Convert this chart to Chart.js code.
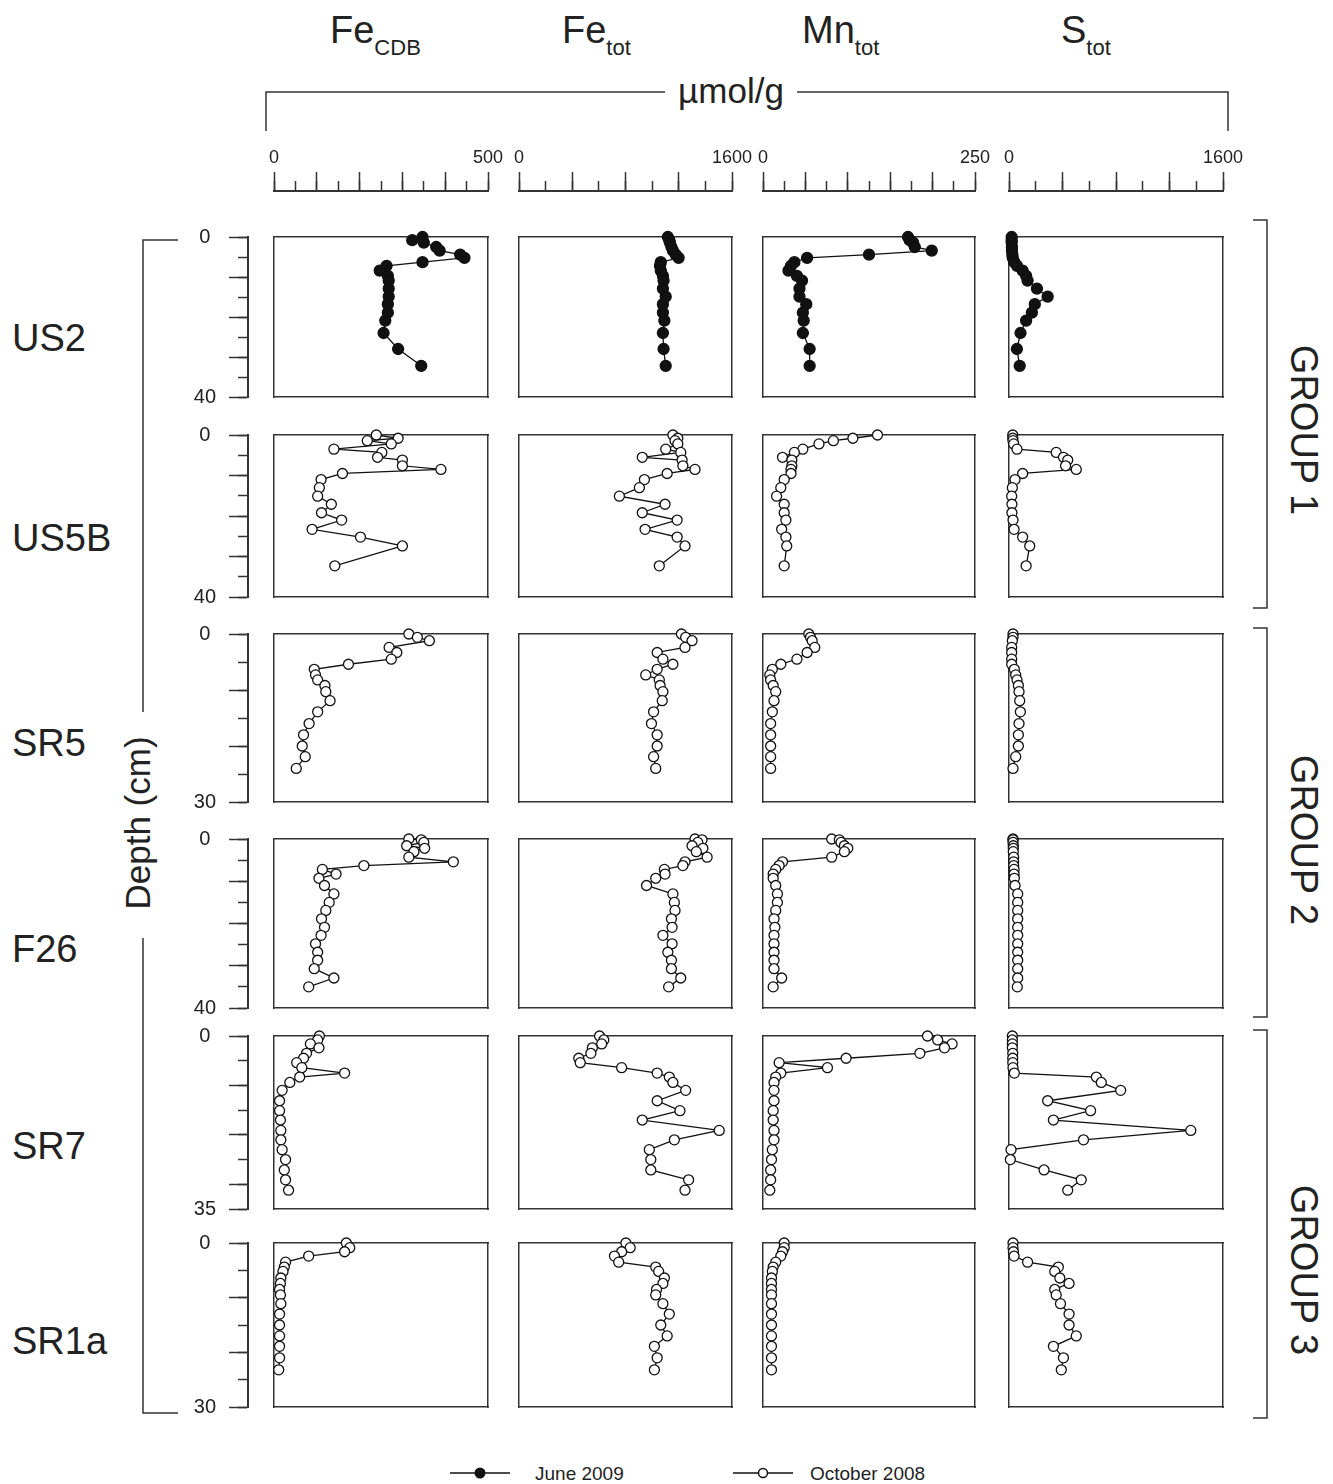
<!DOCTYPE html>
<html>
<head>
<meta charset="utf-8">
<script src="https://cdn.jsdelivr.net/npm/chart.js@4.4.1/dist/chart.umd.min.js"></script>
<style>
  body { margin: 0; background: #fff; }
  #page { position: relative; width: 1333px; height: 1484px; overflow: hidden; font-family: "Liberation Sans", Arial, sans-serif; }
  #page canvas { position: absolute; }
  #page svg { position: absolute; left: 0; top: 0; }
</style>
</head>
<body>
<div id="page">
<svg width="1333" height="1484" font-family="Liberation Sans, Arial, sans-serif" fill="#222">
  <!-- column headers -->
  <text x="330" y="43" font-size="38">Fe<tspan font-size="22" dy="12">CDB</tspan></text>
  <text x="562" y="43" font-size="38">Fe<tspan font-size="22" dy="12">tot</tspan></text>
  <text x="802" y="43" font-size="38">Mn<tspan font-size="22" dy="12">tot</tspan></text>
  <text x="1061" y="43" font-size="38">S<tspan font-size="22" dy="12">tot</tspan></text>
  <!-- unit bracket -->
  <polyline points="266,131 266,92 665,92" fill="none" stroke="#333" stroke-width="1.5"/>
  <polyline points="797,92 1228,92 1228,131" fill="none" stroke="#333" stroke-width="1.5"/>
  <text x="731" y="103" font-size="35" text-anchor="middle">µmol/g</text>
  <!-- core names -->
  <text x="12" y="351" font-size="38">US2</text>
  <text x="12" y="551" font-size="38">US5B</text>
  <text x="12" y="756" font-size="38">SR5</text>
  <text x="12" y="962" font-size="38">F26</text>
  <text x="12" y="1159" font-size="38">SR7</text>
  <text x="12" y="1354" font-size="38">SR1a</text>
  <!-- depth bracket -->
  <polyline points="178,240 143,240 143,712" fill="none" stroke="#333" stroke-width="1.5"/>
  <polyline points="143,938 143,1413 178,1413" fill="none" stroke="#333" stroke-width="1.5"/>
  <text transform="translate(150,823) rotate(-90)" font-size="35" text-anchor="middle">Depth (cm)</text>
  <!-- group brackets -->
  <polyline points="1253,220 1267,220 1267,608 1253,608" fill="none" stroke="#333" stroke-width="1.5"/>
  <polyline points="1253,628 1267,628 1267,1017 1253,1017" fill="none" stroke="#333" stroke-width="1.5"/>
  <polyline points="1253,1030 1267,1030 1267,1418 1253,1418" fill="none" stroke="#333" stroke-width="1.5"/>
  <text transform="translate(1291,430) rotate(90)" font-size="38" text-anchor="middle">GROUP 1</text>
  <text transform="translate(1291,840) rotate(90)" font-size="38" text-anchor="middle">GROUP 2</text>
  <text transform="translate(1291,1270) rotate(90)" font-size="38" text-anchor="middle">GROUP 3</text>
  <!-- legend -->
  <line x1="450" y1="1473" x2="510" y2="1473" stroke="#111" stroke-width="1.5"/>
  <circle cx="480" cy="1473" r="5.5" fill="#111"/>
  <text x="535" y="1480" font-size="19">June 2009</text>
  <line x1="733" y1="1473" x2="793" y2="1473" stroke="#111" stroke-width="1.5"/>
  <circle cx="763" cy="1473" r="4.5" fill="#fff" stroke="#111" stroke-width="1.5"/>
  <text x="810" y="1480" font-size="19">October 2008</text>
</svg>
</div>
<script>
// ---- data (depth in cm, concentrations in umol/g) ----
const cores = ['US2', 'US5B', 'SR5', 'F26', 'SR7', 'SR1a'];
const coreMaxDepth = [40, 40, 30, 40, 35, 30];
const coreFilled = [true, false, false, false, false, false]; // June 2009 vs October 2008
const elements = ['FeCDB', 'Fetot', 'Mn', 'S'];
const elementMax = [500, 1600, 250, 1600];
const majorStep = [100, 400, 50, 400];
const minorStep = [50, 200, 25, 200];

const US2_depth = [0, 0.8, 1.4, 2.5, 3.4, 4.4, 5.2, 6.3, 7.2, 8.4, 9.7, 10.9, 12.9, 14.9, 16.8, 18.9, 20.9, 24.0, 28.0, 32.2];
const US2_FeCDB = [347, 323, 350, 379, 387, 435, 445, 347, 263, 247, 266, 268, 268, 268, 266, 266, 260, 256, 290, 344];
const US2_Fetot = [1118, 1129, 1134, 1145, 1156, 1177, 1199, 1065, 1059, 1065, 1081, 1086, 1081, 1102, 1081, 1081, 1092, 1081, 1086, 1102];
const US2_Mn = [171, 173, 177, 179, 199, 125, 52, 37, 33, 30, 40, 46, 43, 43, 51, 47, 48, 47, 55, 55];
const US2_S = [20, 20, 20, 22, 22, 25, 28, 40, 60, 102, 128, 139, 209, 289, 193, 171, 128, 86, 59, 80];

const US5B_depth = [0, 0.8, 1.4, 2.2, 3.5, 4.3, 5.5, 6.2, 7.6, 8.5, 9.5, 11.0, 13.0, 15.1, 17.1, 19.2, 21.0, 23.3, 25.2, 27.4, 32.3];
const US5B_FeCDB = [239, 290, 218, 274, 140, 252, 242, 300, 300, 390, 160, 110, 106, 102, 134, 111, 158, 89, 202, 300, 142];
const US5B_Fetot = [1156, 1193, 1172, 1193, 1102, 1215, 926, 1225, 1231, 1322, 1113, 942, 904, 754, 1097, 926, 1188, 947, 1188, 1247, 1054];
const US5B_Mn = [135, 106, 83, 66, 47, 37, 23, 34, 34, 33, 33, 25, 21, 16, 25, 25, 27, 22, 27, 28, 25];
const US5B_S = [28, 28, 30, 35, 60, 353, 407, 439, 423, 503, 102, 45, 25, 20, 22, 22, 30, 38, 102, 155, 128];

const SR5_depth = [0, 0.6, 1.2, 2.4, 3.3, 4.5, 5.4, 6.3, 7.3, 8.2, 9.2, 10.3, 11.9, 13.9, 16.0, 18.0, 20.0, 21.9, 24.0];
const SR5_FeCDB = [315, 335, 363, 269, 287, 274, 174, 94, 97, 102, 119, 121, 131, 102, 82, 69, 66, 73, 52];
const SR5_Fetot = [1220, 1252, 1300, 1247, 1038, 1081, 1156, 1038, 952, 1054, 1060, 1081, 1076, 1011, 995, 1038, 1038, 1011, 1027];
const SR5_Mn = [54, 56, 58, 61, 52, 40, 21, 11, 8, 9, 12, 15, 13, 11, 9, 9, 9, 9, 9];
const SR5_S = [30, 30, 25, 20, 20, 20, 20, 40, 50, 60, 70, 75, 80, 85, 75, 70, 70, 50, 30];

const F26_depth = [0, 0.2, 0.8, 1.6, 2.2, 3.0, 4.3, 5.4, 6.3, 7.2, 8.3, 9.3, 11.0, 13.0, 15.0, 16.9, 18.9, 20.9, 22.8, 24.8, 26.8, 28.7, 30.7, 32.9, 35.0];
const F26_FeCDB = [315, 344, 350, 310, 352, 327, 315, 419, 210, 113, 145, 105, 118, 140, 129, 121, 111, 118, 110, 97, 102, 102, 94, 140, 81];
const F26_Fetot = [1322, 1375, 1343, 1300, 1381, 1332, 1413, 1247, 1231, 1092, 1097, 1027, 958, 1156, 1167, 1172, 1145, 1150, 1081, 1150, 1118, 1145, 1145, 1215, 1124];
const F26_Mn = [81, 90, 92, 96, 100, 96, 81, 23, 19, 15, 12, 12, 15, 17, 17, 15, 13, 14, 13, 13, 13, 13, 13, 22, 12];
const F26_S = [30, 30, 30, 32, 32, 32, 35, 35, 35, 38, 38, 40, 45, 65, 65, 65, 65, 65, 65, 65, 65, 65, 65, 65, 62];

const SR7_depth = [0, 0.8, 1.6, 2.4, 3.5, 4.5, 5.4, 6.4, 7.5, 8.3, 9.4, 11.0, 13.1, 15.1, 17.0, 19.1, 21.0, 23.0, 25.0, 27.1, 29.1, 31.2];
const SR7_FeCDB = [106, 102, 85, 105, 76, 69, 53, 65, 165, 60, 37, 19, 13, 13, 15, 16, 16, 19, 27, 24, 27, 34];
const SR7_Fetot = [605, 637, 621, 551, 540, 449, 460, 771, 1038, 1129, 1156, 1252, 1038, 1209, 926, 1504, 1167, 979, 990, 990, 1274, 1247];
const SR7_Mn = [194, 206, 223, 214, 185, 98, 19, 76, 21, 15, 13, 13, 13, 12, 12, 13, 13, 11, 10, 9, 9, 8];
const SR7_S = [25, 25, 25, 25, 28, 28, 28, 30, 40, 653, 690, 835, 289, 610, 332, 1359, 557, 15, 10, 262, 540, 439];

const SR1a_depth = [0, 0.85, 1.6, 2.4, 3.5, 4.4, 5.2, 6.4, 7.4, 8.5, 9.5, 11.1, 13.0, 15.0, 17.0, 18.9, 21.0, 23.2];
const SR1a_FeCDB = [169, 177, 165, 81, 27, 24, 21, 16, 15, 13, 15, 16, 13, 13, 13, 13, 13, 11];
const SR1a_Fetot = [803, 835, 771, 717, 749, 1027, 1049, 1092, 1081, 1033, 1027, 1081, 1129, 1065, 1113, 1017, 1038, 1017];
const SR1a_Mn = [25, 25, 23, 21, 15, 12, 11, 10, 10, 10, 10, 10, 10, 10, 10, 10, 10, 10];
const SR1a_S = [30, 30, 33, 38, 139, 369, 342, 380, 449, 342, 353, 385, 449, 449, 503, 332, 407, 391];

const coreDepths = [US2_depth, US5B_depth, SR5_depth, F26_depth, SR7_depth, SR1a_depth];
const coreValues = [
    [US2_FeCDB, US2_Fetot, US2_Mn, US2_S],
    [US5B_FeCDB, US5B_Fetot, US5B_Mn, US5B_S],
    [SR5_FeCDB, SR5_Fetot, SR5_Mn, SR5_S],
    [F26_FeCDB, F26_Fetot, F26_Mn, F26_S],
    [SR7_FeCDB, SR7_Fetot, SR7_Mn, SR7_S],
    [SR1a_FeCDB, SR1a_Fetot, SR1a_Mn, SR1a_S]
];

// ---- layout ----
const page = document.getElementById('page');
const colLeft = [274, 519, 763, 1009],
    colRight = [488, 732, 975, 1223],
    rowTop = [237, 435, 634, 839, 1036, 1243],
    rowBottom = [397, 597, 802, 1008, 1209, 1407],
    depthAxisX = 248,
    INK = '#333';

Chart.defaults.font.family = '"Liberation Sans", Arial, sans-serif';
Chart.defaults.color = '#222';

function addCanvas(x, y, w, h) {
    const c = document.createElement('canvas');
    c.width = w;
    c.height = h;
    c.style.left = x + 'px';
    c.style.top = y + 'px';
    page.appendChild(c);
    return c;
}

const baseOptions = () => ({
    animation: false,
    responsive: false,
    events: [],
    plugins: { legend: { display: false }, tooltip: { enabled: false } }
});

// frame side of a panel: only the border line is drawn
function frame(position, min, max, reverse) {
    return {
        type: 'linear', position, min, max, reverse: !!reverse, display: true,
        grid: { display: false, drawTicks: false },
        ticks: { display: false },
        border: { display: true, color: INK, width: 1.5 }
    };
}

// one profile panel
function panel(r, c) {
    const PAD = 10;
    const w = colRight[c] - colLeft[c], h = rowBottom[r] - rowTop[r];
    const depth = coreDepths[r], vals = coreValues[r][c];
    const filled = coreFilled[r];
    new Chart(addCanvas(colLeft[c] - PAD, rowTop[r] - PAD, w + 2 * PAD, h + 2 * PAD), {
        type: 'scatter',
        data: {
            datasets: [{
                label: cores[r] + ' ' + elements[c],
                data: depth.map((d, i) => ({ x: vals[i], y: d })),
                showLine: true,
                clip: false,
                borderColor: '#111',
                borderWidth: 1.3,
                pointRadius: filled ? 5.5 : 5,
                pointBackgroundColor: filled ? '#111' : '#fff',
                pointBorderColor: '#111',
                pointBorderWidth: 1.3
            }]
        },
        options: Object.assign(baseOptions(), {
            layout: { padding: PAD },
            scales: {
                x: frame('bottom', 0, elementMax[c]),
                y: frame('left', 0, coreMaxDepth[r], true),
                xTop: frame('top'),
                yRight: frame('right')
            }
        })
    });
}

// concentration scale on top of each column (major + minor ticks, two stacked canvases)
function topScale(c, major) {
    const SIDE = 40, top = 130, axisH = 61;
    const max = elementMax[c];
    new Chart(addCanvas(colLeft[c] - SIDE, top, colRight[c] - colLeft[c] + 2 * SIDE, axisH + 4), {
        type: 'scatter',
        data: { datasets: [] },
        options: Object.assign(baseOptions(), {
            layout: { padding: { left: SIDE, right: SIDE, top: 0, bottom: 0 } },
            scales: {
                x: {
                    type: 'linear', position: 'top', min: 0, max,
                    grid: { display: true, drawOnChartArea: false, tickLength: major ? 19 : 10, tickWidth: 1.5, tickColor: INK },
                    border: { display: true, color: INK, width: 2 },
                    ticks: {
                        display: major, stepSize: major ? majorStep[c] : minorStep[c], autoSkip: false, maxRotation: 0,
                        padding: 3, font: { size: 18 }, color: '#222',
                        callback: v => (v === 0 || v === max) ? String(v) : ''
                    },
                    afterFit: s => { s.height = axisH; }
                },
                y: { display: false }
            }
        })
    });
}

// depth scale at the left of each row
function depthScale(r, major) {
    const W = 60, PAD = 40;
    const max = coreMaxDepth[r];
    new Chart(addCanvas(depthAxisX - W, rowTop[r] - PAD, W + 4, rowBottom[r] - rowTop[r] + 2 * PAD), {
        type: 'scatter',
        data: { datasets: [] },
        options: Object.assign(baseOptions(), {
            layout: { padding: { top: PAD, bottom: PAD, left: 0, right: 0 } },
            scales: {
                x: { display: false },
                y: {
                    type: 'linear', position: 'left', reverse: true, min: 0, max,
                    grid: { display: true, drawOnChartArea: false, tickLength: major ? 19 : 10, tickWidth: 1.5, tickColor: INK },
                    border: { display: true, color: INK, width: 2 },
                    ticks: {
                        display: major, stepSize: major ? 10 : 5, autoSkip: false, crossAlign: 'center',
                        padding: 13, font: { size: 20 }, color: '#222',
                        callback: v => (v === 0 || v === max) ? String(v) : ''
                    },
                    afterFit: s => { s.width = W; }
                }
            }
        })
    });
}

for (let c = 0; c < elements.length; c++) {
    topScale(c, false);
    topScale(c, true);
}
for (let r = 0; r < cores.length; r++) {
    depthScale(r, false);
    depthScale(r, true);
    for (let c = 0; c < elements.length; c++) panel(r, c);
}
</script>
</body>
</html>
